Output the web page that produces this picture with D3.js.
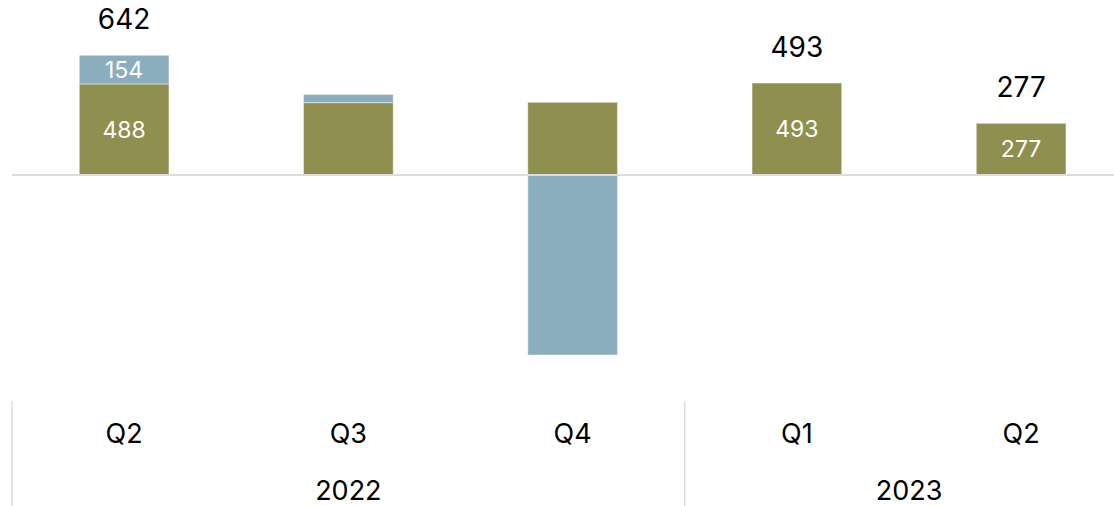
<!DOCTYPE html>
<html>
<head>
<meta charset="utf-8">
<script src="https://cdn.jsdelivr.net/npm/d3@7"></script>
<style>
  html, body { margin: 0; padding: 0; background: #fff; }
  svg { display: block; font-family: Inter, "Noto Sans", sans-serif; }
</style>
</head>
<body>
<svg id="chart" width="1114" height="506"></svg>
<script>
// Quarterly figures, two stacked components per quarter
const quarters = ["Q2", "Q3", "Q4", "Q1", "Q2"];
const years = ["2022", "2022", "2022", "2023", "2023"];
const baseValues = [488, 388, 390, 493, 277];     // olive segment
const extraValues = [154, 44, -965, 0, 0];        // blue segment
const baseLabels = ["488", null, null, "493", "277"];
const extraLabels = ["154", null, null, null, null];
const totalLabels = ["642", null, null, "493", "277"];

const W = 1114, H = 506;
const svg = d3.select("#chart");

const keys = quarters.map((q, i) => years[i] + "-" + q);

const x = d3.scaleBand()
  .domain(keys)
  .range([12, 1133.25])
  .paddingInner(0.6)
  .paddingOuter(0.3);

const y = d3.scaleLinear()
  .domain([-1000, 700])
  .range([361.5, 44.45]);

const colorBase = "#8f8f50";
const colorExtra = "#8aaebd";

// Build stacked segments: positives stack upward, negatives downward from zero
const segments = [];
keys.forEach((k, i) => {
  const b = baseValues[i], e = extraValues[i];
  let pos = 0, neg = 0;
  [[b, colorBase, baseLabels[i]], [e, colorExtra, extraLabels[i]]].forEach(([v, c, lab]) => {
    if (v === 0) return;
    let y0, y1;
    if (v > 0) { y0 = pos; y1 = pos + v; pos = y1; }
    else { y0 = neg; y1 = neg + v; neg = y1; }
    segments.push({ key: k, y0, y1, color: c, label: lab });
  });
});

const gBars = svg.append("g");
gBars.selectAll("rect")
  .data(segments)
  .join("rect")
  .attr("x", d => x(d.key))
  .attr("width", x.bandwidth())
  .attr("y", d => y(Math.max(d.y0, d.y1)))
  .attr("height", d => Math.abs(y(d.y0) - y(d.y1)))
  .attr("fill", d => d.color)
  .attr("stroke", "rgba(255,255,255,0.45)")
  .attr("stroke-width", 1);

// Segment labels
gBars.selectAll("text.seg")
  .data(segments.filter(d => d.label))
  .join("text")
  .attr("class", "seg")
  .attr("x", d => x(d.key) + x.bandwidth() / 2)
  .attr("y", d => (y(d.y0) + y(d.y1)) / 2)
  .attr("dy", "0.36em")
  .attr("text-anchor", "middle")
  .attr("fill", "#fff")
  .attr("font-size", 23)
  .text(d => d.label);

// Totals above bars
const totals = keys.map((k, i) => ({
  key: k,
  top: Math.max(0, baseValues[i]) + Math.max(0, extraValues[i]),
  label: totalLabels[i]
})).filter(d => d.label);

svg.append("g").selectAll("text")
  .data(totals)
  .join("text")
  .attr("x", d => x(d.key) + x.bandwidth() / 2)
  .attr("y", d => y(d.top) - 26)
  .attr("text-anchor", "middle")
  .attr("fill", "#000")
  .attr("font-size", 28)
  .text(d => d.label);

// Zero baseline
svg.append("line")
  .attr("x1", 12).attr("x2", W)
  .attr("y1", y(0)).attr("y2", y(0))
  .attr("stroke", "#dcdcdc")
  .attr("stroke-width", 2);

// Quarter labels
const axisG = svg.append("g");
axisG.selectAll("text.q")
  .data(keys)
  .join("text")
  .attr("class", "q")
  .attr("x", k => x(k) + x.bandwidth() / 2)
  .attr("y", 443)
  .attr("text-anchor", "middle")
  .attr("fill", "#000")
  .attr("font-size", 27)
  .text((k, i) => quarters[i]);

// Year groups with separators
const yearGroups = Array.from(d3.group(keys, (k, i) => years[i]), ([yr, ks]) => ({ yr, ks }));
const halfGap = (x.step() - x.bandwidth()) / 2;

axisG.selectAll("line.sep")
  .data(yearGroups)
  .join("line")
  .attr("class", "sep")
  .attr("x1", d => x(d.ks[0]) - halfGap)
  .attr("x2", d => x(d.ks[0]) - halfGap)
  .attr("y1", 401).attr("y2", H)
  .attr("stroke", "#dcdcdc")
  .attr("stroke-width", 1.5);

axisG.selectAll("text.yr")
  .data(yearGroups)
  .join("text")
  .attr("class", "yr")
  .attr("x", d => (x(d.ks[0]) + x(d.ks[d.ks.length - 1]) + x.bandwidth()) / 2)
  .attr("y", 500)
  .attr("text-anchor", "middle")
  .attr("fill", "#000")
  .attr("font-size", 27)
  .text(d => d.yr);
</script>
</body>
</html>
